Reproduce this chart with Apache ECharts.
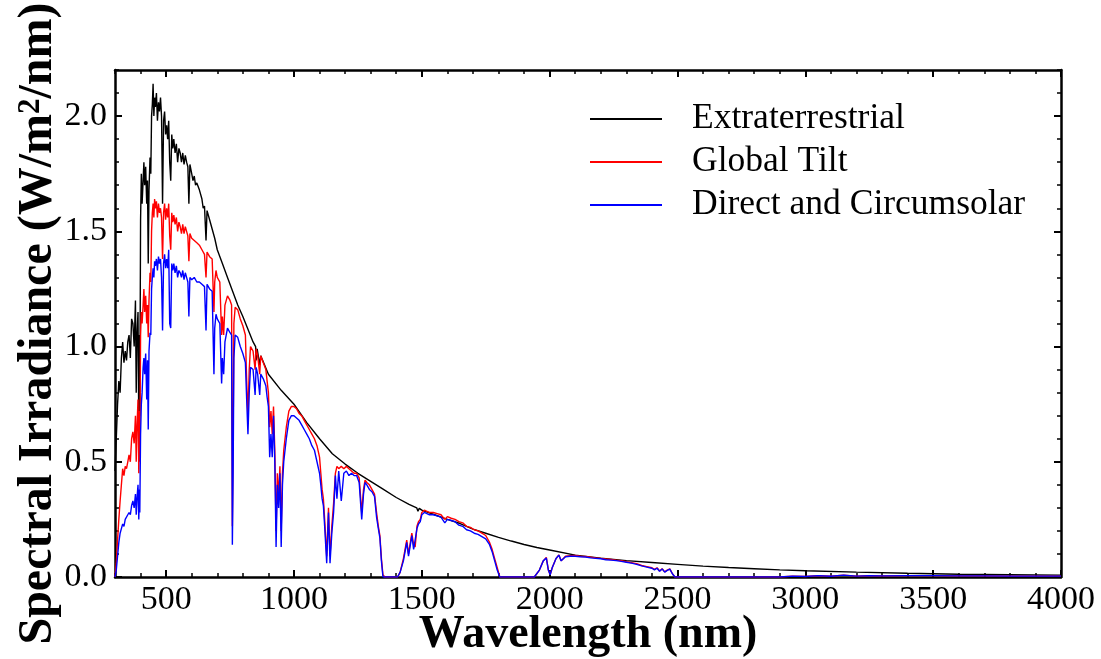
<!DOCTYPE html>
<html>
<head>
<meta charset="utf-8">
<script src="https://cdn.jsdelivr.net/npm/echarts@6/dist/echarts.min.js"></script>
<style>html,body{margin:0;padding:0;background:#fff}#chart{width:1101px;height:659px}</style>
</head>
<body>
<div id="chart"></div>
<script>
// ---- Data ----
const seriesNames = ['Extraterrestrial', 'Global Tilt', 'Direct and Circumsolar'];
const xTickLabels = [500, 1000, 1500, 2000, 2500, 3000, 3500, 4000];
const yTickLabels = [0.0, 0.5, 1.0, 1.5, 2.0];

const etrWavelength = [
  300,305,310,315,320,325,330,335,340,345,
  350,355,360,365,370,375,380,383,386,390,
  393,396,397,400,403,406,410,413,416,420,
  424,427,430,433,437,440,443,446,449,452,
  455,458,462,466,470,474,478,482,486,490,
  494,498,502,506,510,514,518,522,526,530,
  535,540,545,550,555,560,565,570,575,580,
  585,589,593,600,605,610,615,620,630,640,
  645,650,656,660,670,680,690,700,720,740,
  760,780,800,820,840,850,852,856,866,870,
  900,950,1000,1050,1100,1150,1200,1250,1300,1350,
  1400,1450,1480,1485,1490,1500,1550,1600,1650,1700,
  1750,1800,1850,1900,1950,2000,2100,2200,2300,2400,
  2500,2600,2700,2800,2900,3000,3200,3400,3600,3800,
  4000
];
const extraterrestrial = [
  0.46,0.60,0.75,0.85,0.80,0.95,1.02,0.93,0.98,0.94,
  1.02,1.05,0.95,1.12,1.10,1.00,1.20,0.80,1.05,1.15,
  0.65,1.05,0.70,1.55,1.75,1.62,1.72,1.80,1.70,1.78,
  1.62,1.72,1.36,1.68,1.82,1.75,2.00,2.05,2.14,2.00,
  2.08,2.04,2.10,1.98,2.06,2.02,2.08,2.00,1.62,1.98,
  2.02,1.92,1.96,1.90,1.98,1.80,1.72,1.92,1.86,1.90,
  1.84,1.88,1.80,1.86,1.84,1.80,1.84,1.79,1.83,1.80,
  1.78,1.62,1.79,1.75,1.72,1.74,1.70,1.71,1.68,1.64,
  1.60,1.61,1.46,1.59,1.55,1.51,1.47,1.42,1.36,1.30,
  1.24,1.18,1.13,1.075,1.02,1.00,0.94,0.99,0.92,0.96,
  0.88,0.81,0.75,0.67,0.60,0.535,0.49,0.45,0.415,0.38,
  0.345,0.315,0.30,0.285,0.298,0.29,0.27,0.25,0.232,0.208,
  0.19,0.172,0.156,0.141,0.128,0.117,0.095,0.082,0.071,0.063,
  0.055,0.047,0.041,0.036,0.031,0.027,0.021,0.016,0.012,0.010,
  0.008
];

const surfaceWavelength = [
  300,305,310,315,320,325,330,335,340,345,
  350,355,360,365,370,375,380,383,386,390,
  393,396,397,400,403,406,410,413,416,420,
  424,427,430,433,437,440,443,446,449,452,
  455,458,462,466,470,474,478,482,486,490,
  494,498,502,506,510,514,518,522,526,530,
  535,540,545,550,555,560,565,570,575,580,
  585,589,593,600,610,620,630,640,650,656,
  660,670,680,687,690,695,700,710,717,720,
  725,730,740,750,756,759,762,765,770,780,
  790,800,810,815,820,825,830,840,848,852,
  858,866,870,880,890,895,900,905,910,915,
  920,925,930,935,940,945,950,955,960,970,
  980,990,1000,1010,1020,1030,1040,1050,1060,1070,
  1080,1090,1100,1105,1110,1115,1120,1128,1135,1141,
  1148,1155,1162,1168,1175,1185,1195,1205,1215,1225,
  1235,1245,1255,1265,1272,1278,1285,1295,1305,1315,
  1323,1330,1336,1342,1348,1355,1405,1415,1428,1441,
  1448,1454,1461,1468,1474,1481,1487,1494,1500,1510,
  1520,1530,1545,1560,1575,1590,1600,1615,1630,1645,
  1660,1675,1690,1705,1720,1735,1750,1765,1775,1785,
  1795,1805,1940,1960,1975,1987,1995,2002,2010,2025,
  2036,2045,2052,2062,2080,2100,2120,2140,2160,2180,
  2200,2220,2240,2260,2280,2300,2320,2340,2360,2380,
  2400,2410,2420,2430,2440,2450,2460,2470,2480,2490,
  2900,2950,3000,3050,3100,3150,3200,3250,3300,3400,
  3500,3600,3700,3800,3900,4000
];
const globalTilt = [
  0.00,0.06,0.16,0.25,0.33,0.40,0.47,0.44,0.48,0.47,
  0.50,0.53,0.50,0.60,0.63,0.58,0.70,0.50,0.65,0.77,
  0.45,0.72,0.50,1.05,1.15,1.10,1.18,1.25,1.15,1.22,
  1.10,1.18,1.04,1.20,1.32,1.28,1.50,1.58,1.62,1.56,
  1.64,1.60,1.63,1.56,1.62,1.58,1.60,1.56,1.38,1.58,
  1.62,1.55,1.60,1.56,1.62,1.48,1.42,1.58,1.54,1.57,
  1.53,1.56,1.50,1.54,1.52,1.49,1.53,1.49,1.52,1.50,
  1.48,1.37,1.49,1.47,1.46,1.45,1.44,1.42,1.40,1.30,
  1.41,1.39,1.38,1.15,1.28,1.33,1.30,1.28,1.05,1.13,
  1.05,1.18,1.22,1.20,1.18,0.22,0.60,1.10,1.17,1.16,
  1.12,1.09,1.05,0.85,0.70,0.90,1.00,0.98,0.90,0.99,
  0.96,0.88,0.96,0.93,0.90,0.85,0.80,0.65,0.72,0.62,
  0.74,0.55,0.20,0.45,0.35,0.48,0.20,0.45,0.55,0.65,
  0.72,0.74,0.74,0.73,0.71,0.70,0.68,0.66,0.64,0.62,
  0.60,0.57,0.52,0.45,0.38,0.34,0.25,0.09,0.30,0.09,
  0.22,0.32,0.45,0.48,0.47,0.48,0.47,0.48,0.47,0.46,
  0.45,0.45,0.43,0.28,0.38,0.42,0.41,0.40,0.38,0.36,
  0.28,0.22,0.18,0.08,0.01,0.00,0.00,0.02,0.08,0.16,
  0.10,0.10,0.19,0.14,0.13,0.22,0.24,0.25,0.28,0.29,
  0.285,0.28,0.28,0.275,0.27,0.25,0.262,0.255,0.25,0.24,
  0.235,0.22,0.215,0.205,0.20,0.19,0.18,0.15,0.12,0.08,
  0.04,0.00,0.00,0.03,0.07,0.085,0.03,0.01,0.04,0.08,
  0.096,0.07,0.065,0.09,0.092,0.093,0.09,0.089,0.086,0.083,
  0.081,0.078,0.076,0.073,0.071,0.066,0.062,0.058,0.05,0.045,
  0.040,0.033,0.040,0.026,0.036,0.022,0.03,0.035,0.015,0.00,
  0.00,0.004,0.002,0.006,0.003,0.008,0.004,0.006,0.005,0.006,
  0.006,0.005,0.005,0.004,0.004,0.004
];
const directCircumsolar = [
  0.00,0.03,0.09,0.15,0.19,0.21,0.23,0.22,0.25,0.25,
  0.27,0.28,0.27,0.31,0.33,0.30,0.36,0.27,0.34,0.40,
  0.25,0.38,0.28,0.62,0.75,0.80,0.91,0.95,0.88,0.97,
  0.77,0.94,0.64,0.98,1.06,1.05,1.25,1.30,1.34,1.30,
  1.37,1.35,1.38,1.33,1.39,1.36,1.38,1.30,1.07,1.36,
  1.40,1.34,1.38,1.34,1.42,1.10,1.08,1.36,1.33,1.36,
  1.32,1.35,1.30,1.33,1.32,1.30,1.33,1.29,1.32,1.30,
  1.28,1.13,1.30,1.29,1.30,1.28,1.28,1.27,1.26,1.07,
  1.27,1.25,1.24,0.88,1.08,1.14,1.12,1.10,0.84,0.95,
  0.88,1.02,1.08,1.06,1.05,0.14,0.45,0.95,1.05,1.04,
  1.00,0.97,0.93,0.77,0.62,0.80,0.91,0.90,0.79,0.91,
  0.88,0.79,0.88,0.86,0.83,0.78,0.74,0.52,0.62,0.52,
  0.70,0.50,0.13,0.40,0.30,0.45,0.13,0.40,0.50,0.60,
  0.68,0.70,0.70,0.69,0.68,0.66,0.64,0.62,0.60,0.57,
  0.55,0.50,0.45,0.40,0.34,0.31,0.22,0.06,0.28,0.06,
  0.19,0.28,0.44,0.34,0.46,0.33,0.45,0.46,0.44,0.45,
  0.44,0.44,0.41,0.25,0.36,0.41,0.40,0.38,0.37,0.35,
  0.26,0.21,0.17,0.07,0.00,0.00,0.00,0.02,0.07,0.15,
  0.09,0.09,0.18,0.12,0.12,0.21,0.23,0.24,0.27,0.28,
  0.275,0.27,0.27,0.265,0.26,0.235,0.25,0.245,0.24,0.225,
  0.22,0.205,0.20,0.19,0.185,0.175,0.165,0.14,0.11,0.07,
  0.03,0.00,0.00,0.03,0.07,0.082,0.03,0.01,0.04,0.08,
  0.095,0.07,0.062,0.088,0.09,0.09,0.088,0.087,0.083,0.081,
  0.079,0.075,0.073,0.071,0.068,0.064,0.060,0.055,0.048,0.043,
  0.038,0.031,0.038,0.025,0.035,0.021,0.029,0.034,0.014,0.00,
  0.00,0.004,0.002,0.006,0.003,0.008,0.004,0.006,0.005,0.006,
  0.006,0.005,0.005,0.004,0.004,0.004
];

// ---- Chart ----
const zip = (xs, ys) => xs.map((x, i) => [x, ys[i]]);
const FONT = 'Liberation Serif';
const X_MIN = 300, X_MAX = 4000, Y_MIN = 0, Y_MAX = 2.2;
const gridBox = { left: 115, right: 40, top: 70, bottom: 82, containLabel: false, outerBoundsMode: 'none' };

// grid 0: major ticks + box lines + labels; grid 1 (same box): minor ticks
function xAxisDef(gridIndex, pos, withLabels) {
  const major = gridIndex === 0;
  return {
    gridIndex, type: 'value', position: pos, min: X_MIN, max: X_MAX,
    interval: major ? undefined : 100,
    name: withLabels ? 'Wavelength (nm)' : '',
    nameLocation: 'middle', nameGap: 35, nameMoveOverlap: false,
    nameTextStyle: { fontFamily: FONT, fontSize: 46, fontWeight: 'bold', color: '#000' },
    axisLine: { show: major, onZero: false, lineStyle: { color: '#000', width: 2.5 } },
    axisTick: major
      ? { show: true, inside: true, length: 7, lineStyle: { color: '#000', width: 2 }, customValues: xTickLabels }
      : { show: true, inside: true, length: 4, lineStyle: { color: '#000', width: 1.5 } },
    axisLabel: withLabels
      ? { show: true, customValues: xTickLabels, margin: 6, fontFamily: FONT, fontSize: 34, color: '#000',
          formatter: v => String(v) }
      : { show: false },
    splitLine: { show: false }
  };
}
function yAxisDef(gridIndex, pos, withLabels) {
  const major = gridIndex === 0;
  return {
    gridIndex, type: 'value', position: pos, min: Y_MIN, max: Y_MAX,
    interval: major ? undefined : 0.1,
    name: withLabels ? 'Spectral Irradiance (W/m{sup|2}/nm)' : '',
    nameLocation: 'middle', nameGap: 52, nameMoveOverlap: false,
    nameTextStyle: { fontFamily: FONT, fontSize: 48, fontWeight: 'bold', color: '#000',
      rich: { sup: { fontFamily: FONT, fontSize: 31, fontWeight: 'bold', color: '#000', verticalAlign: 'top', lineHeight: 48 } } },
    axisLine: { show: major, onZero: false, lineStyle: { color: '#000', width: 2.5 } },
    axisTick: major
      ? { show: true, inside: true, length: 7, lineStyle: { color: '#000', width: 2 }, customValues: yTickLabels }
      : { show: true, inside: true, length: 4, lineStyle: { color: '#000', width: 1.5 } },
    axisLabel: withLabels
      ? { show: true, customValues: yTickLabels, margin: 8, fontFamily: FONT, fontSize: 34, color: '#000',
          formatter: v => v.toFixed(1) }
      : { show: false },
    splitLine: { show: false }
  };
}

const chart = echarts.init(document.getElementById('chart'), null, { renderer: 'canvas' });
const colors = ['#000000', '#ff0000', '#0000ff'];
chart.setOption({
  animation: false,
  backgroundColor: '#ffffff',
  color: colors,
  grid: [Object.assign({}, gridBox), Object.assign({}, gridBox)],
  legend: {
    data: seriesNames, orient: 'vertical', left: 590, top: 101, padding: 0,
    icon: 'rect', itemWidth: 72, itemHeight: 2, itemGap: 7,
    textStyle: { fontFamily: FONT, fontSize: 35.5, color: '#000', padding: [0, 0, 0, 25] }
  },
  xAxis: [
    xAxisDef(0, 'bottom', true),
    xAxisDef(0, 'top', false),
    xAxisDef(1, 'bottom', false),
    xAxisDef(1, 'top', false)
  ],
  yAxis: [
    yAxisDef(0, 'left', true),
    yAxisDef(0, 'right', false),
    yAxisDef(1, 'left', false),
    yAxisDef(1, 'right', false)
  ],
  series: [
    { name: seriesNames[0], type: 'line', xAxisIndex: 0, yAxisIndex: 0, data: zip(etrWavelength, extraterrestrial),
      showSymbol: false, symbol: 'none', lineStyle: { width: 1.4, color: colors[0] }, z: 2 },
    { name: seriesNames[1], type: 'line', xAxisIndex: 0, yAxisIndex: 0, data: zip(surfaceWavelength, globalTilt),
      showSymbol: false, symbol: 'none', lineStyle: { width: 1.4, color: colors[1] }, z: 3 },
    { name: seriesNames[2], type: 'line', xAxisIndex: 0, yAxisIndex: 0, data: zip(surfaceWavelength, directCircumsolar),
      showSymbol: false, symbol: 'none', lineStyle: { width: 1.4, color: colors[2] }, z: 4 }
  ]
});
</script>
</body>
</html>
